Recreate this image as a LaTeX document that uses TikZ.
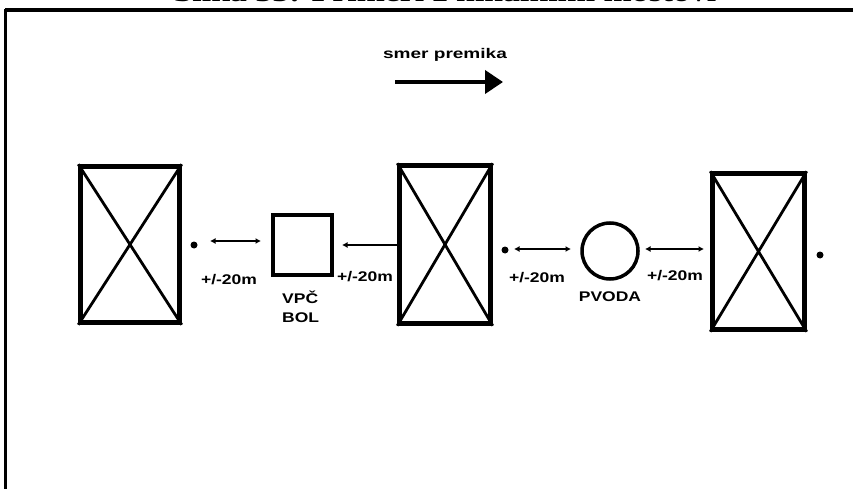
\documentclass[tikz,border=0pt]{standalone}
\usepackage{graphicx}
\usepackage{fontspec}
\setmainfont{Liberation Sans}
\newfontfamily\titlefont{Liberation Serif}
\usetikzlibrary{arrows.meta}
\newcommand{\wide}[1]{\scalebox{1.25}[1]{#1}}
\tikzset{
  lbl/.style={font=\fontsize{14}{21}\selectfont\bfseries, inner sep=0pt},
  xbox/.style={draw, line width=4.5pt, inner sep=0pt},
  xdiag/.style={line width=2.8pt},
  dotmark/.style={circle, fill, inner sep=0pt, minimum size=7pt},
  dbl/.style={line width=2.4pt, {Latex[length=5.5pt,width=6pt]}-{Latex[length=5.5pt,width=6pt]}},
  lft/.style={line width=2.4pt, {Latex[length=5.5pt,width=6pt]}-},
}
\begin{document}
\begin{tikzpicture}[x=1pt,y=-1pt]
\useasboundingbox[fill=white] (0,0) rectangle (853,489);
% title (cut off at top)
\node[anchor=base, inner sep=0pt] (title) at (445,2)
  {\scalebox{1.3}[1]{\titlefont\bfseries\fontsize{26}{28}\selectfont Slika 33: Primeri z nihalnimi mostovi}};
% frame
\draw[line width=4pt] (5,10.5) -- (853,10.5);
\draw[line width=3.5pt] (5.5,9) -- (5.5,489);
% direction
\node[lbl] (dir) at (445,55) {\scalebox{1.36}[1]{smer premika}};
\coordinate (dirA) at (395,82);
\coordinate (dirB) at (503,82);
\draw[line width=4pt, -{Triangle[length=18pt,width=23pt]}] (dirA) -- (dirB);
% boxes
\node[xbox, minimum width=99pt, minimum height=156pt] (b1) at (130,244.5) {};
\draw[xdiag] (b1.north west) -- (b1.south east) (b1.south west) -- (b1.north east);
\node[xbox, minimum width=91pt, minimum height=158pt] (b2) at (445,244.5) {};
\draw[xdiag] (b2.north west) -- (b2.south east) (b2.south west) -- (b2.north east);
\node[xbox, minimum width=92pt, minimum height=156pt] (b3) at (758.5,251.5) {};
\draw[xdiag] (b3.north west) -- (b3.south east) (b3.south west) -- (b3.north east);
% VPC square and PVODA circle
\node[draw, line width=4pt, minimum width=59pt, minimum height=60pt, inner sep=0pt] (sq) at (302.5,245) {};
\node[draw, circle, line width=3.5pt, minimum size=56pt, inner sep=0pt] (ci) at (610,251) {};
% dots
\node[dotmark] (d1) at (194,245) {};
\node[dotmark] (d2) at (505,250) {};
\node[dotmark] (d3) at (820,255) {};
% connectors
\coordinate (a1s) at (210,241);
\coordinate (a1e) at (261,241);
\draw[dbl] (a1s) -- (a1e);
\coordinate (a2s) at (342,245);
\draw[lft] (a2s) -- (b2.west |- a2s);
\coordinate (a3s) at (514,249);
\coordinate (a3e) at (571,249);
\draw[dbl] (a3s) -- (a3e);
\coordinate (a4s) at (645,249);
\coordinate (a4e) at (704,249);
\draw[dbl] (a4s) -- (a4e);
% labels
\node[lbl] (l1) at (229,280) {\wide{+/-20m}};
\node[lbl] (l2) at (365,277) {\wide{+/-20m}};
\node[lbl] (l3) at (537,278) {\wide{+/-20m}};
\node[lbl] (l4) at (675,276) {\wide{+/-20m}};
\node[lbl, anchor=west] (vpc) at (282,297) {\wide{VPČ}};
\node[lbl, anchor=west] (bol) at (282,318) {\wide{BOL}};
\node[lbl] (pv) at (610,297) {\wide{PVODA}};
\end{tikzpicture}
\end{document}
